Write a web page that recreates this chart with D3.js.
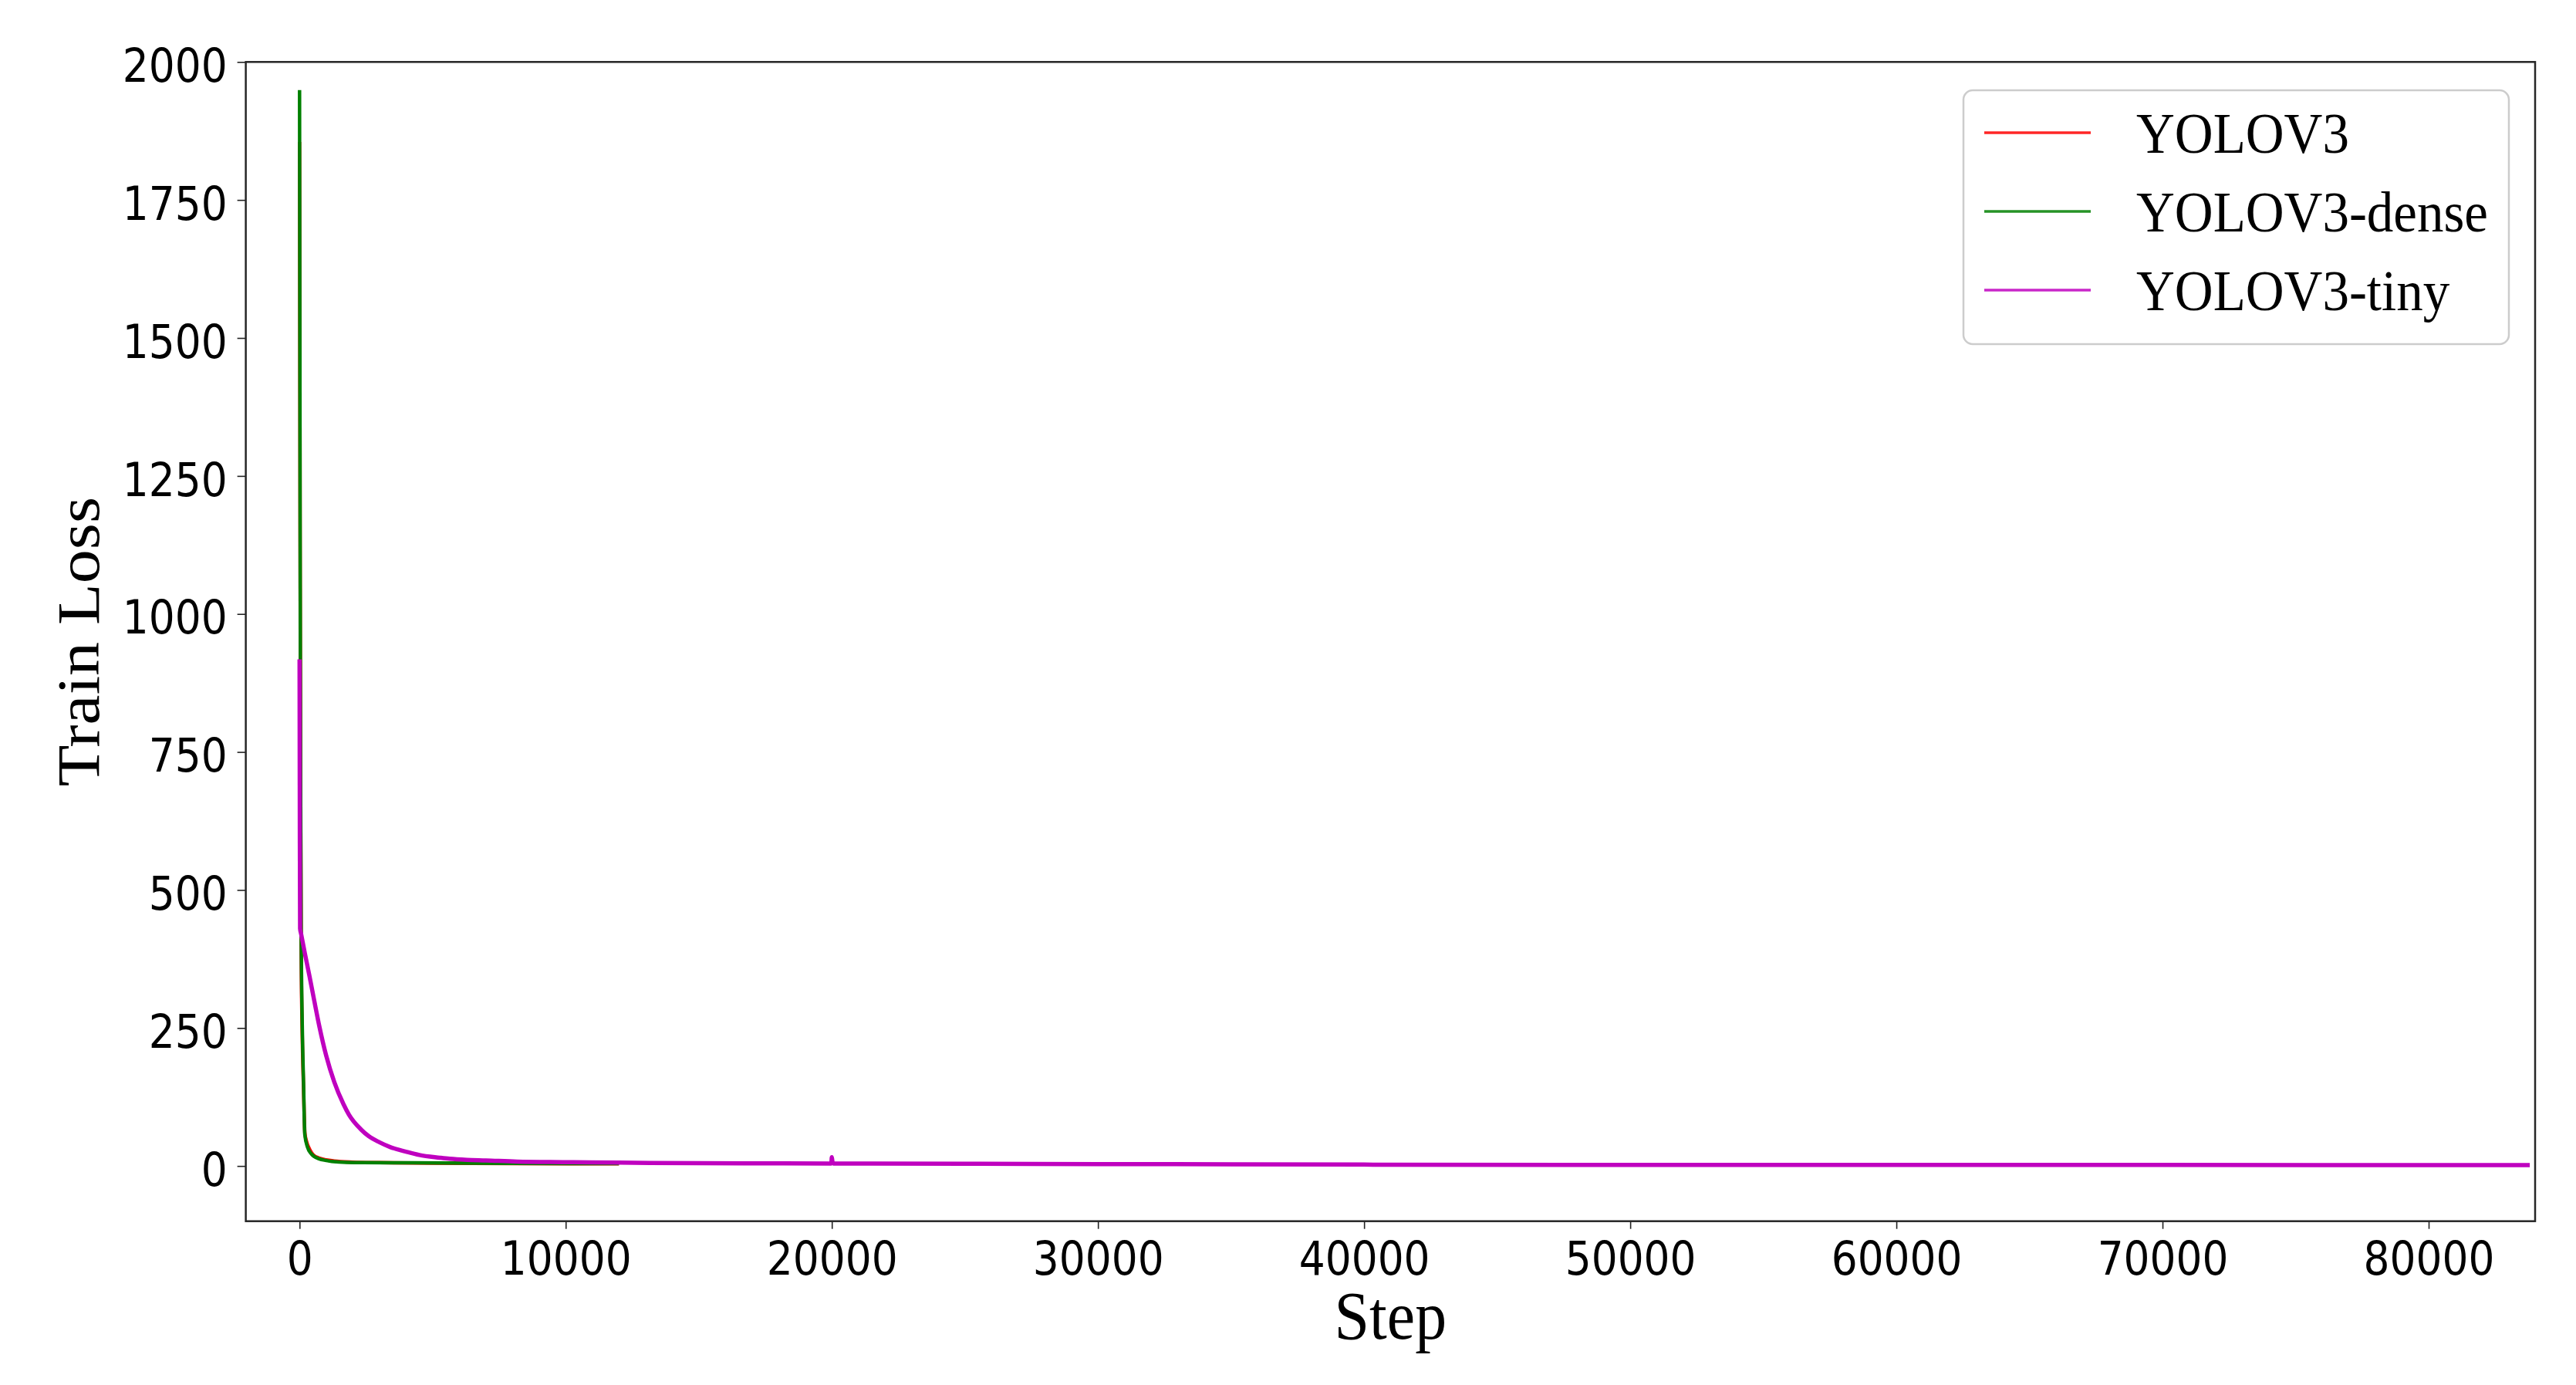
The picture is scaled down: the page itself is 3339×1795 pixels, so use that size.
<!DOCTYPE html>
<html>
<head>
<meta charset="utf-8">
<script src="https://cdn.jsdelivr.net/npm/d3@7/dist/d3.min.js"></script>
<style>
  html, body { margin: 0; padding: 0; background: #ffffff; }
  svg { display: block; }
</style>
</head>
<body>
<svg id="chart"></svg>
<script>
/**
 * Data
 */
var seriesNames = ['YOLOV3', 'YOLOV3-dense', 'YOLOV3-tiny'];

var yolov3Steps = [0, 20, 40, 60, 100, 150, 200, 260, 380, 500, 750, 1000, 1300, 2000, 3000, 5000, 8000, 12000];
var yolov3Loss  = [1855, 1150, 650, 400, 240, 140, 60, 45, 30, 21, 14, 11, 9, 7, 6, 5, 4.5, 4];

var denseSteps = [0, 20, 40, 60, 100, 150, 197, 300, 440, 730, 1000, 1210, 2370, 3500, 5270, 8000, 12000];
var denseLoss  = [1949, 1200, 700, 430, 260, 150, 57, 34, 22, 13, 10, 8.4, 6, 5.8, 5.5, 4.8, 4.5];

var tinySteps = [0, 10, 20, 60, 200, 377, 550, 748, 1000, 1305, 1650, 1855, 2313, 2600, 3000, 3420, 4000, 4500,
  5270, 5640, 6290, 7000, 8170, 10000, 12000, 15000, 19980, 20000, 20020, 20060, 25000, 30000,
  35000, 40000, 50000, 60000, 70000, 83800];
var tinyLoss  = [918, 600, 430, 420, 385, 343, 300, 252, 200, 152, 112, 93, 66, 54, 43, 34, 26, 20,
  15, 13, 11, 10, 8, 7, 6, 5, 4.5, 16, 9, 4.5, 4, 3.5,
  3, 2.5, 2, 2, 1.8, 1.5];

var xTickValues = [0, 10000, 20000, 30000, 40000, 50000, 60000, 70000, 80000];
var yTickValues = [0, 250, 500, 750, 1000, 1250, 1500, 1750, 2000];

/**
 * Layout / style
 */
var width = 3339;
var height = 1795;
var plot = { left: 318.6, right: 3286, top: 80.3, bottom: 1582.7 };
var squeeze = 0.89;       // tick text in the reference is slightly narrow
var serifSqueeze = 0.93;  // serif titles / legend
var colors = ['#ff0000', '#008000', '#bf00bf'];
var lineWidths = [4.5, 4.5, 5.5];

var svg = d3.select('#chart')
  .attr('width', width)
  .attr('height', height);

svg.append('rect')
  .attr('width', width)
  .attr('height', height)
  .attr('fill', '#ffffff');

var x = d3.scaleLinear()
  .domain([-2020, 84000])
  .range([plot.left, plot.right]);

var y = d3.scaleLinear()
  .domain([-100, 2000])
  .range([plot.bottom, plot.top]);

var series = [
  { name: seriesNames[0], steps: yolov3Steps, loss: yolov3Loss },
  { name: seriesNames[1], steps: denseSteps, loss: denseLoss },
  { name: seriesNames[2], steps: tinySteps, loss: tinyLoss },
];

/**
 * Lines
 */
svg.append('clipPath')
  .attr('id', 'plot-clip')
  .append('rect')
  .attr('x', plot.left)
  .attr('y', plot.top)
  .attr('width', plot.right - plot.left)
  .attr('height', plot.bottom - plot.top);

var drawLine = d3.line()
  .curve(d3.curveMonotoneX)
  .x(function (d) { return x(d[0]); })
  .y(function (d) { return y(d[1]); });

svg.append('g')
  .attr('clip-path', 'url(#plot-clip)')
  .selectAll('path.loss-line')
  .data(series)
  .enter()
  .append('path')
  .attr('class', 'loss-line')
  .attr('fill', 'none')
  .attr('stroke', function (d, i) { return colors[i]; })
  .attr('stroke-width', function (d, i) { return lineWidths[i]; })
  .attr('stroke-linejoin', 'round')
  .attr('d', function (d) {
    return drawLine(d.steps.map(function (s, k) { return [s, d.loss[k]]; }));
  });

/**
 * Axes
 */
var xAxis = svg.append('g')
  .attr('transform', 'translate(0,' + plot.bottom + ')')
  .call(d3.axisBottom(x).tickValues(xTickValues).tickSize(10).tickSizeOuter(0).tickFormat(d3.format('d')));

xAxis.select('.domain').remove();
xAxis.selectAll('.tick line').attr('stroke', '#222').attr('stroke-width', 1.6);
xAxis.selectAll('.tick text')
  .attr('y', 69)
  .attr('dy', 0)
  .attr('transform', 'scale(' + squeeze + ',1)')
  .attr('x', 0)
  .style('font-family', '"DejaVu Sans", sans-serif')
  .style('font-size', '60px')
  .attr('fill', '#000');

var yAxis = svg.append('g')
  .attr('transform', 'translate(' + plot.left + ',0)')
  .call(d3.axisLeft(y).tickValues(yTickValues).tickSize(11).tickSizeOuter(0).tickFormat(d3.format('d')));

yAxis.select('.domain').remove();
yAxis.selectAll('.tick line').attr('stroke', '#222').attr('stroke-width', 1.6);
yAxis.selectAll('.tick text')
  .attr('x', -24 / squeeze)
  .attr('dy', '0.42em')
  .attr('transform', 'scale(' + squeeze + ',1)')
  .style('font-family', '"DejaVu Sans", sans-serif')
  .style('font-size', '60px')
  .attr('fill', '#000');

// frame
svg.append('rect')
  .attr('x', plot.left)
  .attr('y', plot.top)
  .attr('width', plot.right - plot.left)
  .attr('height', plot.bottom - plot.top)
  .attr('fill', 'none')
  .attr('stroke', '#262626')
  .attr('stroke-width', 2.5);

/**
 * Axis titles
 */
svg.append('g')
  .attr('transform', 'translate(' + ((plot.left + plot.right) / 2) + ',1735) scale(' + serifSqueeze + ',1)')
  .append('text')
  .attr('text-anchor', 'middle')
  .style('font-family', '"Liberation Serif", "Times New Roman", serif')
  .style('font-size', '88px')
  .text('Step');

svg.append('g')
  .attr('transform', 'translate(128,' + ((plot.top + plot.bottom) / 2) + ') scale(' + squeeze + ',1) rotate(-90)')
  .append('text')
  .attr('text-anchor', 'middle')
  .style('font-family', '"Liberation Serif", "Times New Roman", serif')
  .style('font-size', '88px')
  .text('Train Loss');

/**
 * Legend
 */
var legend = svg.append('g').attr('id', 'legend');

legend.append('rect')
  .attr('x', 2545)
  .attr('y', 117)
  .attr('width', 707)
  .attr('height', 329)
  .attr('rx', 12)
  .attr('fill', '#ffffff')
  .attr('fill-opacity', 0.8)
  .attr('stroke', '#cccccc')
  .attr('stroke-width', 2.5);

var legendItems = legend.selectAll('g.legend-item')
  .data(series)
  .enter()
  .append('g')
  .attr('class', 'legend-item')
  .attr('transform', function (d, i) {
    return 'translate(0,' + (172 + i * 102) + ')';
  });

legendItems.append('line')
  .attr('x1', 2572)
  .attr('x2', 2710)
  .attr('stroke', function (d, i) { return colors[i]; })
  .attr('stroke-width', 3.5)
  .attr('stroke-opacity', 0.85);

legendItems.append('g')
  .attr('transform', 'translate(2769,26) scale(0.945,1)')
  .append('text')
  .style('font-family', '"Liberation Serif", "Times New Roman", serif')
  .style('font-size', '73px')
  .text(function (d) { return d.name; });
</script>
</body>
</html>
